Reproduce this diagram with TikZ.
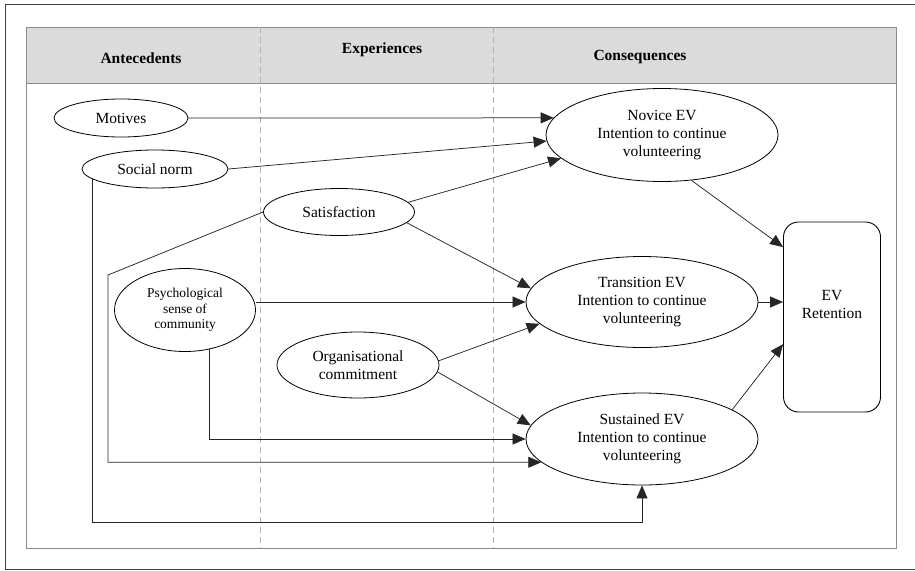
\documentclass[tikz,border=0pt]{standalone}
\usepackage{fontspec}
\setmainfont{Liberation Serif}
\usetikzlibrary{shapes.geometric, arrows.meta, calc}

\begin{document}
\begin{tikzpicture}[x=1pt, y=-1pt,
	construct/.style={draw, ellipse, inner sep=0pt, align=center, line width=0.8pt, font=\rmfamily\fontsize{15.5}{18}\selectfont},
	link/.style={line width=0.75pt, draw=black!85, -{Triangle[length=13pt, width=11pt]}},
	colline/.style={dash pattern=on 6pt off 4pt, draw=black!30, line width=0.7pt},
	heading/.style={anchor=base, font=\rmfamily\fontsize{15.5}{18}\selectfont\bfseries}]
	\useasboundingbox (0,0) rectangle (915,570);
	\draw[black!75, line width=1pt] (915,4) -- (5,4) -- (5,569) -- (915,569);
	\draw[black!45, fill=black!14, line width=0.8pt] (26,27) rectangle (896,83);
	\draw[black!45, line width=0.8pt] (26,27) rectangle (896,548);
	\draw[colline] (260,27) -- (260,548);
	\draw[colline] (493,27) -- (493,548);
	\node[heading] (ante) at (141,63) {Antecedents};
	\node[heading] (expe) at (382,53) {Experiences};
	\node[heading] (conse) at (640,60) {Consequences};

	% antecedents and experiences
	\node[construct, minimum width=134pt, minimum height=38pt] (motives) at (121,118) {Motives};
	\node[construct, minimum width=146pt, minimum height=38pt] (norm) at (155,169) {Social norm};
	\node[construct, minimum width=151pt, minimum height=47pt] (satis) at (339,212) {Satisfaction};
	\node[construct, minimum width=141pt, minimum height=83pt, font=\rmfamily\fontsize{13.5}{15.5}\selectfont] (psoc) at (185,310) {Psychological\\sense of\\community};
	\node[construct, minimum width=162pt, minimum height=66pt] (orgcom) at (358,365) {Organisational\\commitment};

	% consequences
	\node[construct, minimum width=232pt, minimum height=93pt] (novice) at (662,135) {Novice EV\\Intention to continue\\volunteering};
	\node[construct, minimum width=232pt, minimum height=91pt] (trans) at (642,302) {Transition EV\\Intention to continue\\volunteering};
	\node[construct, minimum width=232pt, minimum height=92pt] (sust) at (642,439) {Sustained EV\\Intention to continue\\volunteering};
	\node[draw, rounded corners=15pt, minimum width=97pt, minimum height=190pt, line width=0.9pt] (retain) at (832,317) {};
	\node[align=center, font=\rmfamily\fontsize{15.5}{18}\selectfont] (retaintxt) at (832,304) {EV\\Retention};

	\draw[link] (motives.east) -- (novice.171);
	\draw[link] (norm.east) -- (novice.183);
	\draw[link] (satis.8) -- (novice.193);
	\draw[link] (satis.-9) -- (trans.173);
	\draw[link] (psoc.east |- trans.west) -- (trans.west);
	\draw[link] (orgcom.3) -- (trans.192);
	\draw[link] (orgcom.-5) -- (sust.173);
	\draw[link] (psoc.-58) |- (sust.west);
	\coordinate (satbend) at (108,275);
	\draw[link] (satis.west) -- (satbend) |- (sust.193);
	\coordinate (normbend) at (642,522);
	\draw[link] (norm.189) |- (normbend) -- (sust.south);
	\draw[link] (novice.-57) -- (retain.125);
	\draw[link] (trans.east) -- (trans.east -| retain.west);
	\draw[link] (sust.18) -- (retain.209);
\end{tikzpicture}
\end{document}
